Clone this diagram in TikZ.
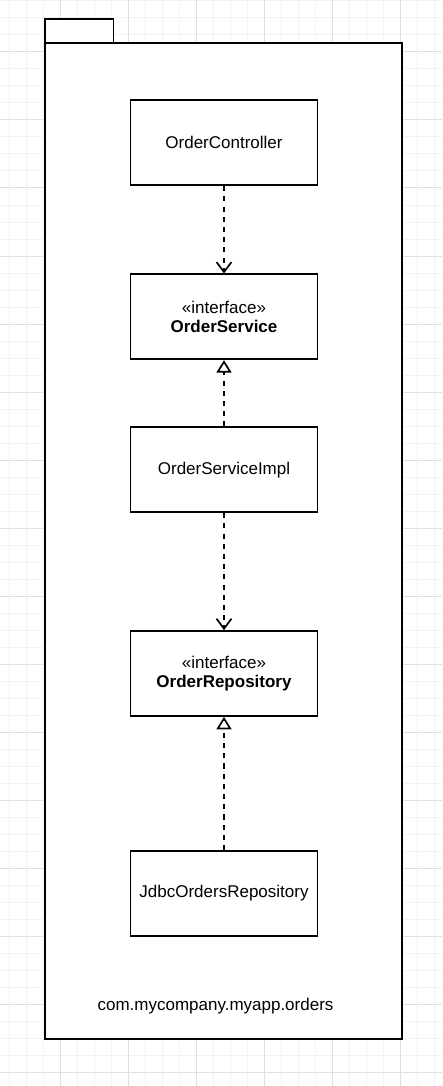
\documentclass[tikz,border=0pt]{standalone}
\usepackage{fontspec}
\setmainfont{Liberation Sans}
\usetikzlibrary{arrows.meta}
\definecolor{gridminor}{HTML}{F3F3F3}
\definecolor{gridmajor}{HTML}{E0E0E0}
\tikzset{
  classbox/.style={draw=black, line width=1.7pt, fill=white, minimum width=187pt, minimum height=85pt, inner sep=0pt, font=\fontsize{17}{19.5}\selectfont, align=center},
  pkgline/.style={draw=black, line width=1.7pt, fill=white},
  depend/.style={line width=1.7pt, dash pattern=on 5.1pt off 5.1pt, -{Straight Barb[length=10pt, width=15pt, line width=1.7pt]}},
  realize/.style={line width=1.7pt, dash pattern=on 5.1pt off 5.1pt, -{Triangle[open, length=12.5pt, width=15pt, line width=1.7pt, fill=white]}},
}
\begin{document}
\begin{tikzpicture}[x=1pt, y=-1pt]
  \useasboundingbox (0,0) rectangle (442,1086);
  \fill[white] (0,0) rectangle (442,1086);
  % background grid
  \foreach \gx in {9,26,...,442} \draw[gridminor, line width=1pt] (\gx,0) -- (\gx,1086);
  \foreach \gy in {1,18,...,1086} \draw[gridminor, line width=1pt] (0,\gy) -- (442,\gy);
  \foreach \gx in {60,128,...,442} \draw[gridmajor, line width=1pt] (\gx,0) -- (\gx,1086);
  \foreach \gy in {52,120,...,1086} \draw[gridmajor, line width=1pt] (0,\gy) -- (442,\gy);
  % package frame with its tab
  \path[pkgline] (45,19) rectangle (113.5,43.3);
  \path[pkgline] (45,43.3) rectangle (402.3,1039.3);
  \node[font=\fontsize{17}{21}\selectfont] (pkg) at (215.5,1006) {com.mycompany.myapp.orders};
  % classes
  \node[classbox] (ctrl) at (224,142.8) {OrderController};
  \node[classbox] (svc) at (224,316.8) {«interface»\\\textbf{OrderService}};
  \node[classbox] (impl) at (224,469.8) {OrderServiceImpl};
  \node[classbox] (repo) at (224,673.5) {«interface»\\\textbf{OrderRepository}};
  \node[classbox] (jdbc) at (224,893.5) {JdbcOrdersRepository};
  % relations
  \draw[depend] (ctrl.south) -- (svc.north);
  \draw[realize] (impl.north) -- (svc.south);
  \draw[depend] (impl.south) -- (repo.north);
  \draw[realize] (jdbc.north) -- (repo.south);
\end{tikzpicture}
\end{document}
